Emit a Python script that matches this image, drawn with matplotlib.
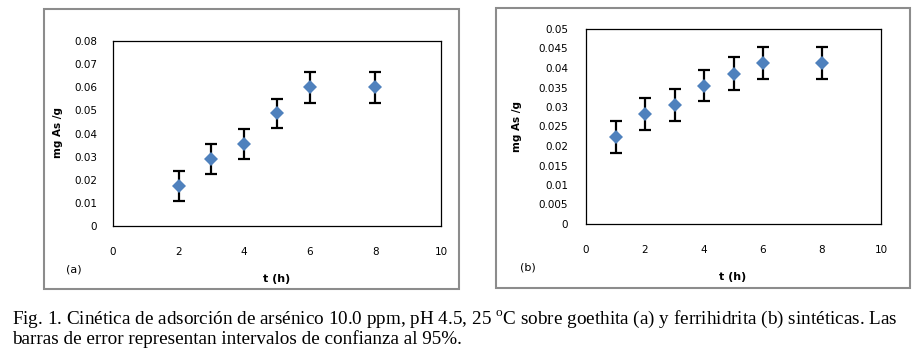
import matplotlib.pyplot as plt
from matplotlib.patches import Rectangle

# === Data ===
t_a = [2, 3, 4, 5, 6, 8]
q_a = [0.0173, 0.0290, 0.0355, 0.0487, 0.0600, 0.0600]
err_a = [0.0065, 0.0065, 0.0065, 0.0064, 0.0066, 0.0066]

t_b = [1, 2, 3, 4, 5, 6, 8]
q_b = [0.0223, 0.0282, 0.0305, 0.0355, 0.0385, 0.0414, 0.0414]
err_b = [0.0041, 0.0041, 0.0040, 0.0040, 0.0042, 0.0041, 0.0041]

yticks_a = [0, 0.01, 0.02, 0.03, 0.04, 0.05, 0.06, 0.07, 0.08]
ytick_labels_a = ["0", "0.01", "0.02", "0.03", "0.04", "0.05", "0.06", "0.07", "0.08"]
yticks_b = [0, 0.005, 0.01, 0.015, 0.02, 0.025, 0.03, 0.035, 0.04, 0.045, 0.05]
ytick_labels_b = ["0", "0.005", "0.01", "0.015", "0.02", "0.025", "0.03", "0.035",
                  "0.04", "0.045", "0.05"]
xticks = [0, 2, 4, 6, 8, 10]

caption = ("Fig. 1. Cinética de adsorción de arsénico 10.0 ppm, pH 4.5, 25 $^{\\mathrm{o}}$C "
           "sobre goethita (a) y ferrihidrita (b) sintéticas. Las\n"
           "barras de error representan intervalos de confianza al 95%.")

plt.rcParams["mathtext.fontset"] = "custom"
plt.rcParams["mathtext.rm"] = "Liberation Serif"

W, H = 918, 364
fig = plt.figure(figsize=(W / 100, H / 100), dpi=100)


def px_axes(x0, y0, x1, y1):
    # pixel box (top-left origin) -> figure coords
    return fig.add_axes([x0 / W, 1 - y1 / H, (x1 - x0) / W, (y1 - y0) / H])


def panel_box(x0, y0, x1, y1):
    fig.patches.append(Rectangle((x0 / W, 1 - y1 / H), (x1 - x0) / W, (y1 - y0) / H,
                                 transform=fig.transFigure, fill=False,
                                 edgecolor="#8c8c8c", linewidth=1.5))


def draw_panel(ax, t, q, err, yticks, ylabels, ymax, ypad):
    ax.errorbar(t, q, yerr=err, fmt="none", ecolor="black", elinewidth=1.6,
                capsize=4, capthick=1.6, zorder=2)
    ax.plot(t, q, linestyle="none", marker="D", markersize=7,
            color="#4f81bd", markeredgewidth=0, zorder=3)
    ax.set_xlim(0, 10)
    ax.set_ylim(0, ymax)
    ax.set_xticks(xticks)
    ax.set_xticklabels([str(v) for v in xticks])
    ax.set_yticks(yticks)
    ax.set_yticklabels(ylabels)
    ax.tick_params(axis="x", length=0, pad=15, labelsize=7.5)
    ax.tick_params(axis="y", length=0, pad=ypad, labelsize=7.5)
    for s in ax.spines.values():
        s.set_linewidth(0.9)
        s.set_color("black")


# === Panel (a) ===
panel_box(44, 9, 459, 289)
ax_a = px_axes(113, 41, 441, 226)
draw_panel(ax_a, t_a, q_a, err_a, yticks_a, ytick_labels_a, 0.08, 11.5)
fig.text(58 / W, 1 - 133 / H, "mg As /g", rotation=90, ha="center", va="center",
         fontsize=7.5, fontweight="bold")
fig.text(277 / W, 1 - 279 / H, "t (h)", ha="center", va="center",
         fontsize=8, fontweight="bold")
fig.text(74 / W, 1 - 269 / H, "(a)", ha="center", va="center", fontsize=8)

# === Panel (b) ===
panel_box(496, 8, 910, 288)
ax_b = px_axes(586, 29, 881, 224)
draw_panel(ax_b, t_b, q_b, err_b, yticks_b, ytick_labels_b, 0.05, 13)
fig.text(517 / W, 1 - 127 / H, "mg As /g", rotation=90, ha="center", va="center",
         fontsize=7.5, fontweight="bold")
fig.text(733 / W, 1 - 277 / H, "t (h)", ha="center", va="center",
         fontsize=8, fontweight="bold")
fig.text(528 / W, 1 - 267 / H, "(b)", ha="center", va="center", fontsize=8)

# === Caption ===
fig.text(12 / W, 1 - 309 / H, caption, ha="left", va="top", fontsize=13.8,
         family="Liberation Serif", linespacing=1.0)

fig.savefig("out.png", dpi=100)
